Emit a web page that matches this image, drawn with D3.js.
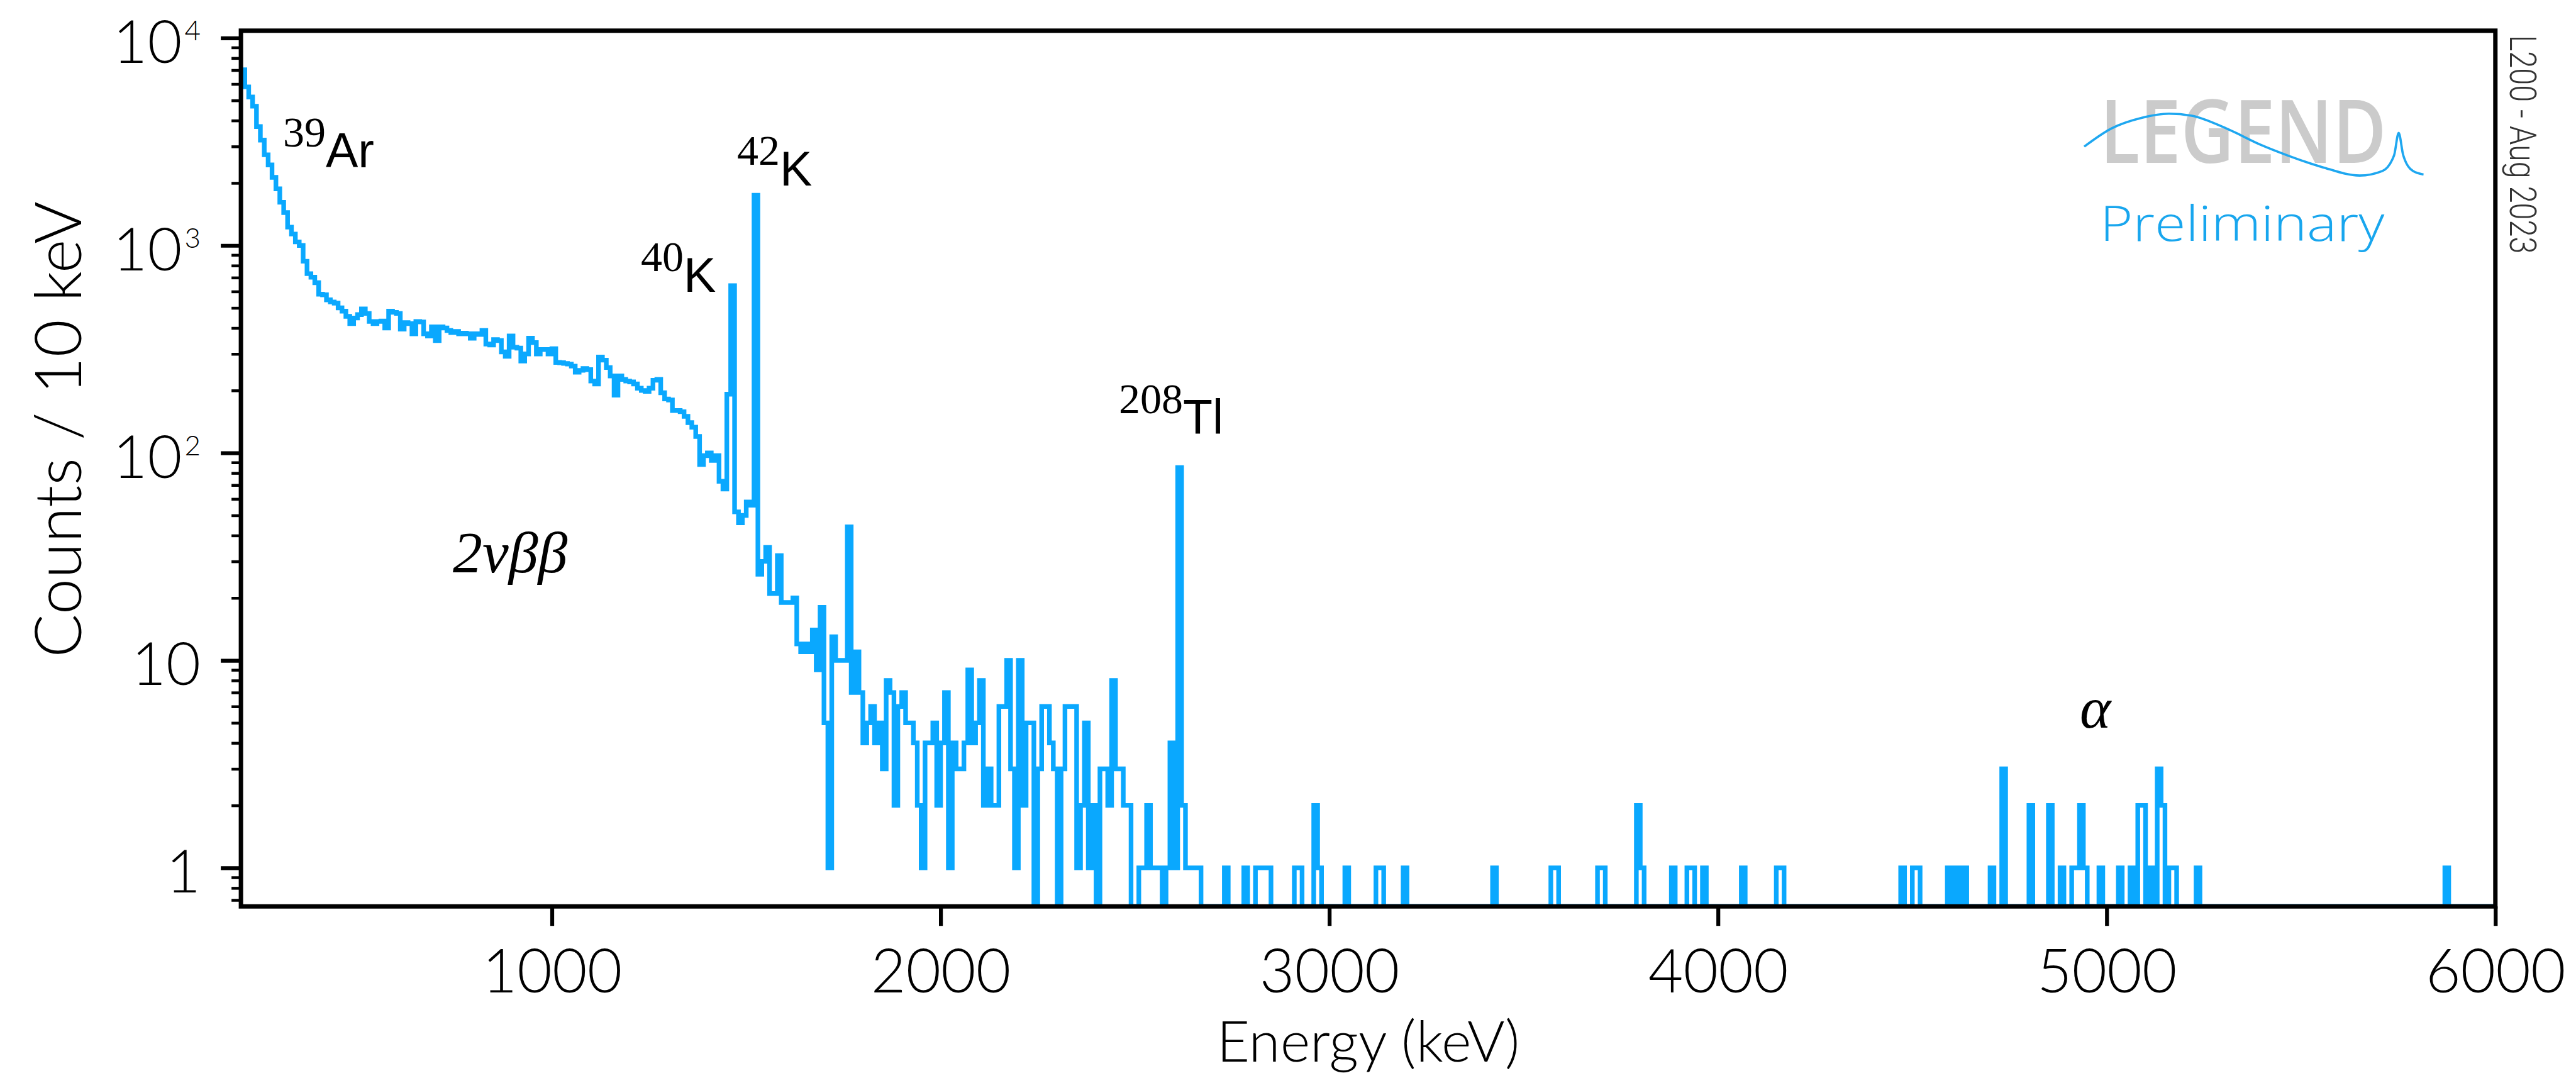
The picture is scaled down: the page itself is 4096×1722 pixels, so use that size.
<!DOCTYPE html>
<html>
<head>
<meta charset="utf-8">
<script src="https://cdn.jsdelivr.net/npm/d3@7"></script>
<style>
  html, body { margin: 0; padding: 0; background: #ffffff; }
  svg { display: block; }
</style>
</head>
<body>
<svg id="chart" width="4096" height="1722"></svg>
<script>
// ---- Energy spectrum, 10 keV bins starting at 200 keV ----
const binStartKeV = 200;
const binWidthKeV = 10;
const energyMaxKeV = 6000;

// 200 - 990 keV (39Ar dominated region)
const countsLow = [
  7020, 5810, 5190, 4690, 3740, 3220, 2735, 2443, 2128, 1875,
  1614, 1440, 1225, 1135, 1040, 1000, 839, 731, 703, 661,
  582, 578, 547, 534, 527, 500, 482, 455, 420, 447,
  464, 494, 470, 430, 420, 430, 432, 400, 482, 476,
  470, 395, 425, 420, 375, 430, 428, 375, 366, 405,
  348, 405, 400, 389, 380, 385, 375, 378, 375, 357,
  375, 372, 389, 335, 331, 352, 348, 307, 292, 366,
  323, 320, 277, 300, 357, 340, 300, 315, 315, 300
];

// 1000 - 1520 keV (40K and 42K lines)
const countsMid = [
  318, 273, 272, 270, 268, 262, 245, 250, 255, 252,
  222, 215, 290, 280, 258, 235, 190, 235, 226, 222,
  220, 215, 205, 200, 198, 205, 224, 226, 195, 182,
  180, 160, 160, 158, 150, 140, 133, 120, 88, 97,
  100, 92, 97, 73, 67, 192, 640, 52, 46, 50,
  58, 56, 1745
];

// 1530 - 2690 keV (up to the 208Tl line)
const countsTail = [
  26, 30, 35, 21, 21, 32, 19, 19, 19, 20,
  12, 11, 12, 11, 14, 9, 18, 5, 1, 13,
  10, 10, 10, 44, 7, 11, 7, 4, 5, 6,
  4, 5, 3, 8, 7, 2, 6, 7, 5, 5,
  4, 2, 1, 4, 4, 5, 2, 4, 7, 1,
  4, 3, 3, 4, 9, 4, 5, 8, 2, 3,
  2, 2, 6, 6, 10, 3, 1, 10, 2, 5,
  5, 0, 3, 6, 6, 4, 3, 0, 3, 6,
  6, 6, 1, 2, 5, 1, 2, 0, 3, 3,
  2, 8, 3, 3, 2, 2, 0, 0, 1, 1,
  2, 1, 1, 1, 0, 1, 4, 1, 85, 2,
  1, 1, 1, 1, 0, 0, 0
];

// Above 2700 keV only isolated bins are filled (lower bin edge, counts)
const sparseEnergies = [
  2730, 2780, 2810, 2820, 2830, 2840, 2910, 2920, 2960, 2970,
  3040, 3120, 3130, 3190, 3420, 3570, 3580, 3690, 3700, 3790,
  3800, 3880, 3920, 3930, 3960, 4060, 4150, 4160, 4470, 4500,
  4510, 4590, 4610, 4630, 4700, 4730, 4800, 4850, 4880, 4910,
  4920, 4930, 4940, 4980, 5030, 5060, 5080, 5090, 5110, 5130,
  5140, 5160, 5170, 5230, 5870
];
const sparseCounts = [
  1, 1, 1, 1, 1, 1, 1, 1, 2, 1,
  1, 1, 1, 1, 1, 1, 1, 1, 1, 2,
  1, 1, 1, 1, 1, 1, 1, 1, 1, 1,
  1, 1, 1, 1, 1, 3, 2, 2, 1, 1,
  1, 2, 1, 1, 1, 1, 2, 2, 1, 3,
  2, 1, 1, 1, 1
];

// Axis ticks
const xTicks = [1000, 2000, 3000, 4000, 5000, 6000];
const yTicks = [1, 10, 100, 1000, 10000];
const yTickExponents = { 100: "2", 1000: "3", 10000: "4" };

// ---- assemble the histogram ----
const nBins = (energyMaxKeV - binStartKeV) / binWidthKeV;
const counts = countsLow.concat(countsMid, countsTail);
while (counts.length < nBins) counts.push(0);
sparseEnergies.forEach((e, i) => {
  counts[(e - binStartKeV) / binWidthKeV] = sparseCounts[i];
});
const bins = counts.map((c, i) => ({ e: binStartKeV + i * binWidthKeV, c }));
bins.push({ e: energyMaxKeV, c: counts[counts.length - 1] });

// ---- layout ----
const svg = d3.select("#chart");
const frame = { left: 383.1, right: 3967.8, top: 48.8, bottom: 1441.2 };

const x = d3.scaleLinear().domain([binStartKeV, energyMaxKeV]).range([frame.left, frame.right]);
const y = d3.scaleLog().domain([0.652, 10840]).range([frame.bottom, frame.top]);
const yFloor = y.domain()[0];

const sansTick = '"Lato", "Open Sans", sans-serif';
const serif = '"Liberation Serif", "Times New Roman", serif';
const sans = '"Liberation Sans", Arial, sans-serif';
const blue = "#0aa8fe";

svg.append("rect").attr("width", 4096).attr("height", 1722).attr("fill", "#ffffff");

svg.append("defs").append("clipPath").attr("id", "plotClip")
  .append("rect")
  .attr("x", frame.left).attr("y", frame.top)
  .attr("width", frame.right - frame.left)
  .attr("height", frame.bottom - frame.top);

// histogram outline
const stepLine = d3.line()
  .x(d => x(d.e))
  .y(d => y(Math.max(d.c, yFloor)))
  .curve(d3.curveStepAfter);

svg.append("path")
  .datum(bins)
  .attr("clip-path", "url(#plotClip)")
  .attr("d", stepLine)
  .attr("fill", "none")
  .attr("stroke", blue)
  .attr("stroke-width", 7.4)
  .attr("stroke-linejoin", "miter");

// ---- axes ----
const yMinor = [];
[0.1, 1, 10, 100, 1000].forEach(base => {
  for (let m = 2; m <= 9; m++) {
    const v = base * m;
    if (v > yFloor && v < y.domain()[1]) yMinor.push(v);
  }
});

const gyMinor = svg.append("g")
  .attr("transform", `translate(${frame.left},0)`)
  .call(d3.axisLeft(y).tickValues(yMinor).tickSize(15).tickFormat(() => ""));
gyMinor.select(".domain").remove();
gyMinor.selectAll("line").attr("stroke", "#000").attr("stroke-width", 4.5);

const gy = svg.append("g")
  .attr("transform", `translate(${frame.left},0)`)
  .call(d3.axisLeft(y).tickValues(yTicks).tickSize(32).tickPadding(32)
    .tickFormat(d => (yTickExponents[d] ? "10" : String(d))));
gy.select(".domain").remove();
gy.selectAll("line").attr("stroke", "#000").attr("stroke-width", 6.2);
gy.selectAll("text")
  .attr("font-family", sansTick)
  .attr("font-weight", 300)
  .attr("font-size", 95)
  .attr("fill", "#000")
  .attr("dy", "0.41em")
  .each(function (d) {
    const exp = yTickExponents[d];
    if (!exp) return;
    d3.select(this).append("tspan")
      .attr("font-size", 44)
      .attr("dx", 4)
      .attr("dy", -36)
      .text(exp);
  });

const gx = svg.append("g")
  .attr("transform", `translate(0,${frame.bottom})`)
  .call(d3.axisBottom(x).tickValues(xTicks).tickSize(31).tickPadding(38).tickFormat(d3.format("d")));
gx.select(".domain").remove();
gx.selectAll("line").attr("stroke", "#000").attr("stroke-width", 6.2);
gx.selectAll("text")
  .attr("font-family", sansTick)
  .attr("font-weight", 300)
  .attr("font-size", 96)
  .attr("fill", "#000");

// frame
svg.append("rect")
  .attr("x", frame.left).attr("y", frame.top)
  .attr("width", frame.right - frame.left)
  .attr("height", frame.bottom - frame.top)
  .attr("fill", "none")
  .attr("stroke", "#000")
  .attr("stroke-width", 7);

// axis titles
svg.append("text")
  .attr("transform", "translate(129,683) rotate(-90)")
  .attr("text-anchor", "middle")
  .attr("font-family", sansTick)
  .attr("font-weight", 300)
  .attr("font-size", 103)
  .attr("fill", "#000")
  .text("Counts / 10 keV");

svg.append("text")
  .attr("x", (frame.left + frame.right) / 2)
  .attr("y", 1688)
  .attr("text-anchor", "middle")
  .attr("font-family", sansTick)
  .attr("font-weight", 300)
  .attr("font-size", 91)
  .attr("fill", "#000")
  .text("Energy (keV)");

// ---- isotope annotations ----
function isotope(px, py, mass, name) {
  const t = svg.append("text").attr("x", px).attr("y", py).attr("fill", "#000");
  t.append("tspan").attr("font-family", serif).attr("font-size", 68).attr("dy", -33).text(mass);
  t.append("tspan").attr("font-family", sans).attr("font-size", 77).attr("dy", 33).text(name);
}
isotope(450, 266, "39", "Ar");
isotope(1019, 464, "40", "K");
isotope(1172, 295, "42", "K");
isotope(1779, 690, "208", "Tl");

svg.append("text")
  .attr("x", 720).attr("y", 910)
  .attr("font-family", serif)
  .attr("font-style", "italic")
  .attr("font-size", 94).attr("fill", "#000")
  .text("2νββ");

svg.append("text")
  .attr("x", 3307).attr("y", 1157)
  .attr("font-family", serif)
  .attr("font-style", "italic")
  .attr("font-size", 94).attr("fill", "#000")
  .text("α");

// ---- collaboration mark ----
const logo = svg.append("g").attr("transform", "translate(3314,180.7) scale(0.8065)");
logo.append("text")
  .attr("x", 31).attr("y", 97)
  .attr("font-family", '"Open Sans", sans-serif')
  .attr("font-weight", 600)
  .attr("font-size", 172)
  .attr("fill", "#cbcbcb")
  .attr("textLength", 565)
  .attr("lengthAdjust", "spacingAndGlyphs")
  .text("LEGEND");
const waveShape = [[0, 65], [54, 29], [114, 8], [167, 0], [212, 4], [280, 29], [347, 61], [400, 82],
  [468, 105], [543, 122], [588, 113], [611, 82], [620, 38], [629, 82], [648, 113], [669, 120]];
logo.append("path")
  .attr("d", d3.line().curve(d3.curveMonotoneX)(waveShape))
  .attr("fill", "none")
  .attr("stroke", "#1ea7f0")
  .attr("stroke-width", 4.5);
logo.append("text")
  .attr("x", 31).attr("y", 251)
  .attr("font-family", '"Open Sans", sans-serif')
  .attr("font-weight", 300)
  .attr("font-size", 95)
  .attr("fill", "#18a6ee")
  .attr("textLength", 561)
  .attr("lengthAdjust", "spacingAndGlyphs")
  .text("Preliminary");

svg.append("text")
  .attr("transform", "translate(3991,55.6) rotate(90)")
  .attr("font-family", '"Roboto", "Liberation Sans", sans-serif')
  .attr("font-weight", 300)
  .attr("font-size", 59)
  .attr("fill", "#333333")
  .attr("textLength", 348)
  .attr("lengthAdjust", "spacingAndGlyphs")
  .text("L200 - Aug 2023");
</script>
</body>
</html>
